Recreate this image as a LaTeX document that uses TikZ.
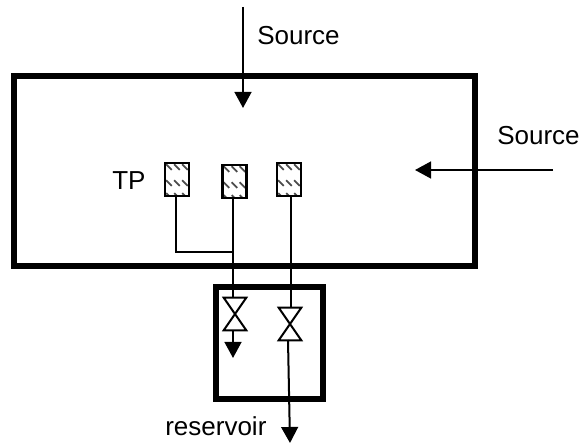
\documentclass[tikz,border=0pt]{standalone}
\usepackage{fontspec}
\setmainfont{Liberation Sans}
\usetikzlibrary{arrows.meta}
\tikzset{
  label text/.style={inner sep=0pt, anchor=base west, font=\fontsize{18.5}{20}\selectfont},
  wall/.style={line width=0.14cm},
  pipe/.style={line width=0.05cm},
  flow/.style={line width=0.05cm, -{Triangle[length=0.4cm,width=0.42cm]}},
  tpbox/.style={draw, line width=0.06cm, minimum width=0.6cm, minimum height=0.825cm, inner sep=0pt,
    path picture={
      \foreach \row in {0.31,-0.09,-0.41}
        \foreach \col in {-0.2,0,0.2}
          \draw[black!70, line width=0.045cm]
            ([shift={(\col-0.07,\row+0.07)}]path picture bounding box.center) --
            ([shift={(\col+0.07,\row-0.07)}]path picture bounding box.center);
    }},
  valve/.style={minimum width=0.55cm, minimum height=0.8cm, inner sep=0pt},
}
\begin{document}
\begin{tikzpicture}
\useasboundingbox (0,0) rectangle (14.6,11.2);
\draw[wall] (0.35,4.55) rectangle (11.875,9.3);
\draw[wall] (5.4,1.225) rectangle (8.075,4.025);
% sampling points
\node[tpbox] (tp1) at (4.425,6.7125) {};
\node[tpbox] (tp2) at (5.8625,6.6625) {};
\node[tpbox] (tp3) at (7.225,6.7125) {};
% valves
\node[valve] (v1) at (5.875,3.35) {};
\node[valve] (v2) at (7.25,3.1) {};
\draw[pipe] (v1.north west) -- (v1.north east) -- (v1.south west) -- (v1.south east) -- cycle;
\draw[pipe] (v2.north west) -- (v2.north east) -- (v2.south west) -- (v2.south east) -- cycle;
% piping
\coordinate (join) at (5.825,4.9);
\coordinate (tip1) at (5.825,2.25);
\coordinate (tip2) at (7.25,0.125);
\draw[pipe] (tp1.south -| 4.4,0) -- (4.4,4.9) -- (join);
\draw[pipe] (tp2.south -| join) -- (join) -- (join |- v1.north);
\draw[pipe] (tp3.south -| 7.275,0) -- (7.275,0 |- v2.north);
\draw[flow] (join |- v1.south) -- (tip1);
\draw[flow] (7.2,2.7) -- (tip2);
% sources
\coordinate (src1) at (6.075,11.025);
\coordinate (in1) at (6.075,8.5);
\coordinate (src2) at (13.825,6.95);
\coordinate (in2) at (10.375,6.95);
\draw[flow] (src1) -- (in1);
\draw[flow] (src2) -- (in2);
\node[label text] (lsrc1) at (6.425,10.075) {Source};
\node[label text] (lsrc2) at (12.425,7.575) {Source};
\node[label text] (ltp) at (2.8,6.45) {TP};
\node[label text] (lres) at (4.125,0.3) {reservoir};
\end{tikzpicture}
\end{document}
